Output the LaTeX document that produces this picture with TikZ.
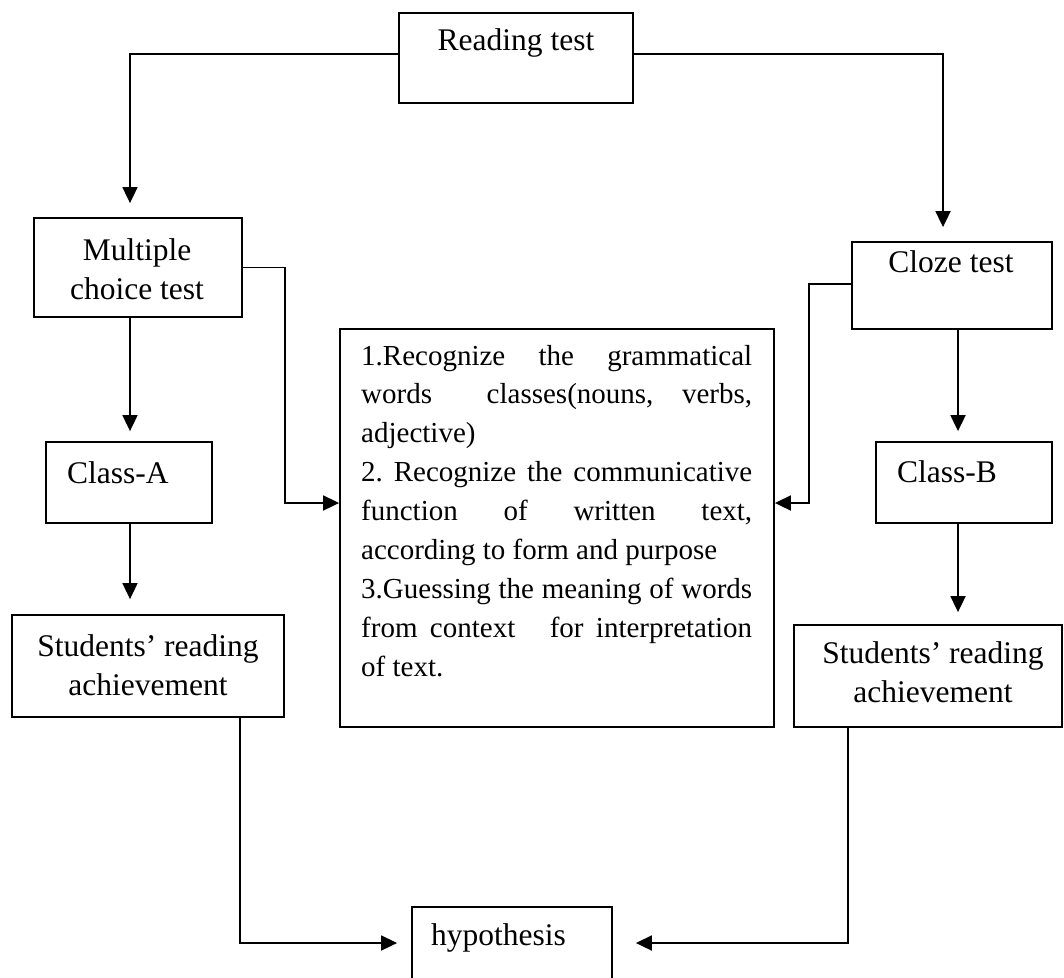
\documentclass[tikz,border=0pt]{standalone}
\usepackage{fontspec}
\setmainfont{Liberation Serif}
\usetikzlibrary{arrows.meta}
\setlength{\parindent}{0pt}
\hyphenpenalty=10000
\exhyphenpenalty=10000
\tolerance=10000
\frenchspacing
\begin{document}
\begin{tikzpicture}[x=1pt,y=-1pt,
  box/.style={draw, line width=1.8pt, rectangle, inner sep=0pt},
  lbl/.style={font=\fontsize{31.5}{39}\selectfont, inner sep=0pt, anchor=base, align=center},
  lblw/.style={font=\fontsize{31.5}{39}\selectfont, inner sep=0pt, anchor=base west},
  conn/.style={line width=1.8pt, -{Triangle[length=16pt,width=15pt]}},
]
\clip (0,0) rectangle (1064,977);
% boxes
\node[box, minimum width=234pt, minimum height=90pt]  (rt)  at (516,58)    {};
\node[box, minimum width=208pt, minimum height=99pt]  (mc)  at (138,267.5) {};
\node[box, minimum width=166pt, minimum height=81pt]  (ca)  at (129,482.5) {};
\node[box, minimum width=272pt, minimum height=102pt] (sl)  at (148,666)   {};
\node[box, minimum width=434pt, minimum height=398pt] (big) at (557,528)   {};
\node[box, minimum width=200pt, minimum height=87pt]  (cz)  at (952,285.5) {};
\node[box, minimum width=176pt, minimum height=81pt]  (cb)  at (964,482.5) {};
\node[box, minimum width=268pt, minimum height=102pt] (sr)  at (928,676)   {};
\node[box, minimum width=200pt, minimum height=88pt]  (hy)  at (512,951)   {};
% labels (base anchor of a two-line label is the last line's baseline)
\node[lbl] (trt) at (516,50) {Reading test};
\node[lbl] (tmc) at (137,299) {Multiple\\choice test};
\node[lblw] (tca) at (67,483) {Class-A};
\node[lbl] (tsl) at (148,695) {Students’ reading\\achievement};
\node[lbl] (tcz) at (951,272) {Cloze test};
\node[lblw] (tcb) at (897,482) {Class-B};
\node[lbl] (tsr) at (933,702) {Students’ reading\\achievement};
\node[lblw] (thy) at (431,945) {hypothesis};
\node[font=\fontsize{29}{38.9}\selectfont\frenchspacing, text width=391pt, align=justify, inner sep=0pt, anchor=base west] (tbig) at (361,365)
{1.Recognize the grammatical\linebreak
words\hspace{26pt} classes(nouns, verbs,\linebreak
adjective)\par
2. Recognize the communicative\linebreak
function of written text,\linebreak
according to form and purpose\par
3.Guessing the meaning of words\linebreak
from context\hspace{22pt} for interpretation\linebreak
of text.};
% connectors
\draw[conn] ([yshift=4pt]rt.west) -| ([xshift=-8pt,yshift=14pt]mc.north);
\draw[conn] ([yshift=4pt]rt.east) -| ([xshift=-9pt,yshift=14pt]cz.north);
\draw[conn] (mc.east) -- ++(42,0) |- ([yshift=25pt]big.west);
\draw[conn] ([yshift=1.5pt]cz.west) -- ++(-42,0) |- ([yshift=25pt]big.east);
\draw[conn] ([xshift=-8pt]mc.south) -- ([xshift=1pt,yshift=10pt]ca.north);
\draw[conn] ([xshift=1pt]ca.south) -- ([xshift=-18pt,yshift=15pt]sl.north);
\draw[conn] ([xshift=6pt]cz.south) -- ([xshift=-6pt,yshift=10pt]cb.north);
\draw[conn] ([xshift=-6pt]cb.south) -- ([xshift=30pt,yshift=12pt]sr.north);
\draw[conn] ([xshift=92pt]sl.south) |- ([xshift=-14pt,yshift=8pt]hy.west);
\draw[conn] ([xshift=-80pt]sr.south) |- ([xshift=23pt,yshift=8pt]hy.east);
\end{tikzpicture}
\end{document}
